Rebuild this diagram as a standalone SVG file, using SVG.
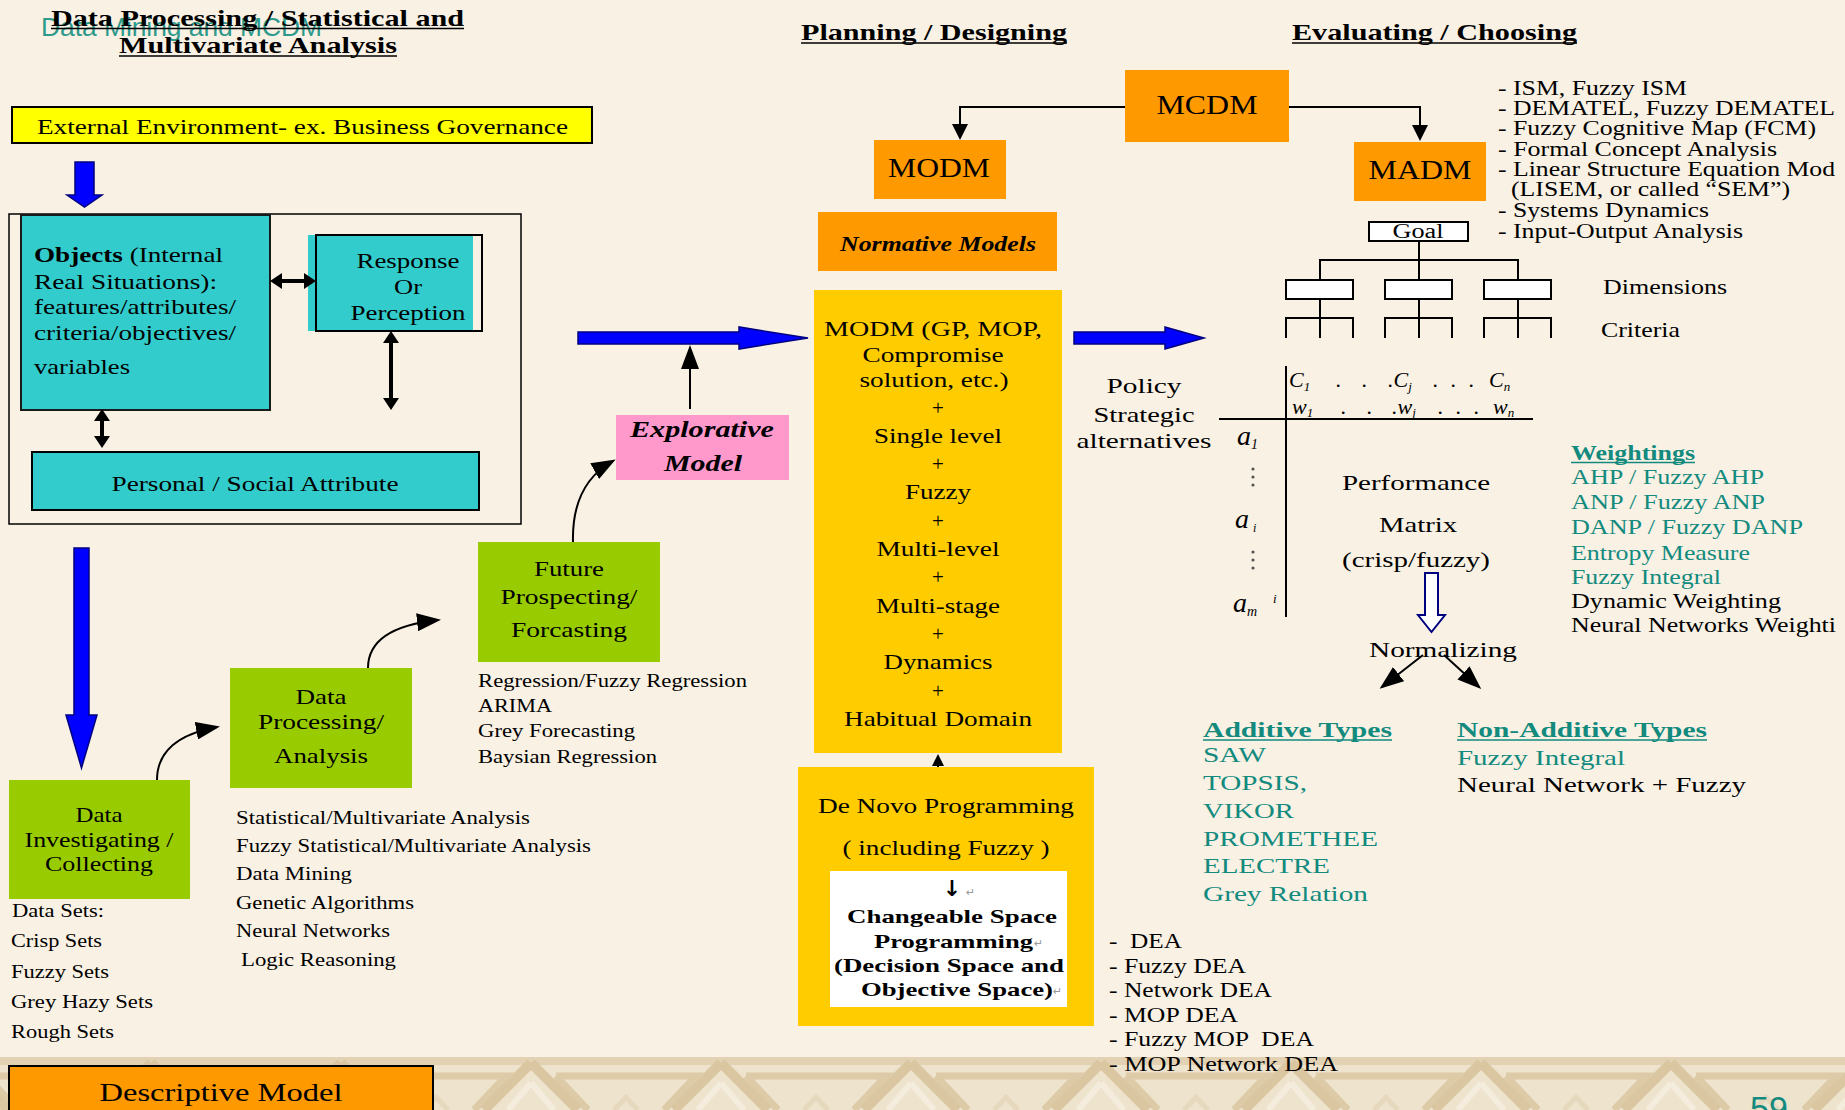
<svg xmlns="http://www.w3.org/2000/svg" width="1845" height="1110" viewBox="0 0 1845 1110">
<defs>
<style>
.s{font-family:"Liberation Serif","Times New Roman",serif;fill:#000}
.sa{font-family:"Liberation Sans",Arial,sans-serif}
.b{font-weight:bold}
.i{font-style:italic}
.t{fill:#128a7e}
.c{text-anchor:middle}
.pre{white-space:pre}
.ln{stroke:#000;stroke-width:2;fill:none}
.dbl{stroke:#000;stroke-width:4;fill:none}
.blue{fill:#0000ff;stroke:#000080;stroke-width:1.5}
.bx{stroke:#000;stroke-width:2}
.ul{stroke-width:1.6}
.teal{fill:#33cccc}
.org{fill:#ff9900}
.grn{fill:#99cc00}
.gold{fill:#ffcc00}
.ret{fill:#999;font-family:"DejaVu Sans",sans-serif;font-size:11px}
</style>
<marker id="ah" viewBox="0 0 16 16" refX="13" refY="8" markerWidth="16" markerHeight="16" markerUnits="userSpaceOnUse" orient="auto"><path d="M0,0 L16,8 L0,16 z" fill="#000"/></marker>
<marker id="ahs" viewBox="0 0 12 12" refX="10" refY="6" markerWidth="12" markerHeight="12" markerUnits="userSpaceOnUse" orient="auto"><path d="M0,0 L12,6 L0,12 z" fill="#000"/></marker>
<marker id="ahd" viewBox="0 0 12 16" refX="4" refY="8" markerWidth="12" markerHeight="16" markerUnits="userSpaceOnUse" orient="auto-start-reverse"><path d="M0,0 L12,8 L0,16 z" fill="#000"/></marker>
<marker id="ahl" viewBox="0 0 24 18" refX="21" refY="9" markerWidth="24" markerHeight="18" markerUnits="userSpaceOnUse" orient="auto"><path d="M0,0 L24,9 L0,18 z" fill="#000"/></marker>
<pattern id="band" x="56" y="1057" width="190" height="53" patternUnits="userSpaceOnUse">
<rect width="190" height="53" fill="#eee3cd"/>
<rect width="190" height="8" fill="#e2d2b3"/>
<path d="M-20,19 H70 L38,53 M120,19 H210" stroke="#ddcaa7" stroke-width="7" fill="none"/>
<path d="M152,53 L120,19" stroke="#ddcaa7" stroke-width="7" fill="none"/>
<path d="M95,6 L48,53 M95,6 L142,53" stroke="#dac7a2" stroke-width="10" fill="none"/>
<path d="M95,26 L72,53 M95,26 L118,53" stroke="#f4ecdc" stroke-width="6" fill="none"/>
<path d="M-10,30 L12,53 M200,30 L178,53" stroke="#e6d8bc" stroke-width="5" fill="none"/>
</pattern>
</defs>

<rect x="0" y="0" width="1845" height="1110" fill="#f8f1e4"/>
<rect x="0" y="1057" width="1845" height="53" fill="url(#band)"/>

<g id="titles">
<text class="sa" x="41" y="36" font-size="25" fill="#2e9a8c" textLength="281" lengthAdjust="spacingAndGlyphs">Data Mining and MCDM</text>
<text class="s b" x="51" y="26" font-size="24" textLength="413" lengthAdjust="spacingAndGlyphs">Data Processing / Statistical and</text>
<line class="ln ul" x1="51" y1="28.5" x2="464" y2="28.5"/>
<text class="s b" x="119" y="53" font-size="24" textLength="278" lengthAdjust="spacingAndGlyphs">Multivariate Analysis</text>
<line class="ln ul" x1="119" y1="56" x2="397" y2="56"/>
<text class="s b" x="801" y="40" font-size="24" textLength="266" lengthAdjust="spacingAndGlyphs">Planning / Designing</text>
<line class="ln ul" x1="801" y1="43" x2="1067" y2="43"/>
<text class="s b" x="1292" y="40" font-size="24" textLength="285" lengthAdjust="spacingAndGlyphs">Evaluating / Choosing</text>
<line class="ln ul" x1="1292" y1="43" x2="1577" y2="43"/>
</g>

<g id="external">
<rect class="bx" x="12" y="107" width="580" height="36" fill="#ffff00"/>
<text class="s" x="37" y="134" font-size="22" textLength="531" lengthAdjust="spacingAndGlyphs">External Environment- ex. Business Governance</text>
</g>

<g id="arrows-blue">
<polygon class="blue" points="75,162 94,162 94,195 102,195 84.5,207 67,195 75,195"/>
<polygon class="blue" points="74,548 89,548 89,715 97,715 81.5,768 66,715 74,715"/>
<polygon class="blue" points="578,332 739,332 739,327 808,338 739,349 739,344 578,344"/>
<polygon class="blue" points="1074,332 1165,332 1165,327 1204,338 1165,349 1165,344 1074,344"/>
</g>

<g id="internal-frame">
<rect x="9" y="214" width="512" height="310" fill="none" stroke="#000" stroke-width="1.5"/>
</g>

<g id="objects">
<rect x="21" y="215" width="249" height="195" class="teal" stroke="#1a1a1a" stroke-width="2"/>
<text class="s" x="34" y="262" font-size="22" textLength="189" lengthAdjust="spacingAndGlyphs"><tspan class="b">Objects</tspan> (Internal</text>
<text class="s" x="34" y="289" font-size="22" textLength="183" lengthAdjust="spacingAndGlyphs">Real Situations):</text>
<text class="s" x="34" y="314" font-size="22" textLength="202" lengthAdjust="spacingAndGlyphs">features/attributes/</text>
<text class="s" x="34" y="340" font-size="22" textLength="202" lengthAdjust="spacingAndGlyphs">criteria/objectives/</text>
<text class="s" x="34" y="374" font-size="22" textLength="96" lengthAdjust="spacingAndGlyphs">variables</text>
</g>

<g id="response">
<rect x="308" y="235" width="165" height="96" class="teal"/>
<rect x="316" y="235" width="166" height="96" fill="none" stroke="#000" stroke-width="2"/>
<text class="s c" x="408" y="268" font-size="21" textLength="103" lengthAdjust="spacingAndGlyphs">Response</text>
<text class="s c" x="408" y="294" font-size="21" textLength="28" lengthAdjust="spacingAndGlyphs">Or</text>
<text class="s c" x="408" y="320" font-size="21" textLength="115" lengthAdjust="spacingAndGlyphs">Perception</text>
</g>

<g id="personal">
<rect class="bx teal" x="32" y="452" width="447" height="58"/>
<text class="s c" x="255" y="491" font-size="22" textLength="287" lengthAdjust="spacingAndGlyphs">Personal / Social Attribute</text>
</g>

<g id="mcdm">
<rect class="org" x="1125" y="70" width="164" height="72"/>
<text class="s c" x="1207" y="114" font-size="27" textLength="101" lengthAdjust="spacingAndGlyphs">MCDM</text>
</g>
<g id="modm">
<rect class="org" x="874" y="140" width="132" height="59"/>
<text class="s c" x="939" y="177" font-size="27" textLength="102" lengthAdjust="spacingAndGlyphs">MODM</text>
</g>
<g id="madm">
<rect class="org" x="1354" y="142" width="132" height="59"/>
<text class="s c" x="1420" y="179" font-size="27" textLength="103" lengthAdjust="spacingAndGlyphs">MADM</text>
</g>
<g id="normative">
<rect class="org" x="818" y="212" width="239" height="59"/>
<text class="s b i c" x="938" y="251" font-size="22" textLength="196" lengthAdjust="spacingAndGlyphs">Normative Models</text>
</g>

<g id="modm-methods">
<rect class="gold" x="814" y="290" width="248" height="463"/>
<text class="s c" x="933" y="336" font-size="22" textLength="218" lengthAdjust="spacingAndGlyphs">MODM (GP, MOP,</text>
<text class="s c" x="933" y="362" font-size="22" textLength="141" lengthAdjust="spacingAndGlyphs">Compromise</text>
<text class="s c" x="934" y="387" font-size="22" textLength="149" lengthAdjust="spacingAndGlyphs">solution, etc.)</text>
<text class="s c" x="938" y="415" font-size="21">+</text>
<text class="s c" x="938" y="443" font-size="22" textLength="128" lengthAdjust="spacingAndGlyphs">Single level</text>
<text class="s c" x="938" y="471" font-size="21">+</text>
<text class="s c" x="938" y="499" font-size="22" textLength="66" lengthAdjust="spacingAndGlyphs">Fuzzy</text>
<text class="s c" x="938" y="528" font-size="21">+</text>
<text class="s c" x="938" y="556" font-size="22" textLength="123" lengthAdjust="spacingAndGlyphs">Multi-level</text>
<text class="s c" x="938" y="584" font-size="21">+</text>
<text class="s c" x="938" y="613" font-size="22" textLength="124" lengthAdjust="spacingAndGlyphs">Multi-stage</text>
<text class="s c" x="938" y="641" font-size="21">+</text>
<text class="s c" x="938" y="669" font-size="22" textLength="109" lengthAdjust="spacingAndGlyphs">Dynamics</text>
<text class="s c" x="938" y="698" font-size="21">+</text>
<text class="s c" x="938" y="726" font-size="22" textLength="188" lengthAdjust="spacingAndGlyphs">Habitual Domain</text>
</g>

<g id="explorative">
<rect x="616" y="415" width="173" height="65" fill="#ff99cc"/>
<text class="s b i c" x="702" y="437" font-size="23" textLength="144" lengthAdjust="spacingAndGlyphs">Explorative</text>
<text class="s b i c" x="703" y="471" font-size="23" textLength="78" lengthAdjust="spacingAndGlyphs">Model</text>
</g>

<g id="data-investigating">
<rect class="grn" x="9" y="780" width="181" height="119"/>
<text class="s c" x="99" y="822" font-size="22" textLength="47" lengthAdjust="spacingAndGlyphs">Data</text>
<text class="s c" x="99" y="847" font-size="22" textLength="149" lengthAdjust="spacingAndGlyphs">Investigating /</text>
<text class="s c" x="99" y="871" font-size="22" textLength="108" lengthAdjust="spacingAndGlyphs">Collecting</text>
</g>
<g id="data-processing">
<rect class="grn" x="230" y="668" width="182" height="120"/>
<text class="s c" x="321" y="704" font-size="21" textLength="51" lengthAdjust="spacingAndGlyphs">Data</text>
<text class="s c" x="321" y="729" font-size="21" textLength="126" lengthAdjust="spacingAndGlyphs">Processing/</text>
<text class="s c" x="321" y="763" font-size="21" textLength="94" lengthAdjust="spacingAndGlyphs">Analysis</text>
</g>
<g id="future">
<rect class="grn" x="478" y="542" width="182" height="120"/>
<text class="s c" x="569" y="576" font-size="21" textLength="70" lengthAdjust="spacingAndGlyphs">Future</text>
<text class="s c" x="569" y="604" font-size="21" textLength="137" lengthAdjust="spacingAndGlyphs">Prospecting/</text>
<text class="s c" x="569" y="637" font-size="21" textLength="116" lengthAdjust="spacingAndGlyphs">Forcasting</text>
</g>

<g id="forecast-methods">
<text class="s" x="478" y="687" font-size="18" textLength="269" lengthAdjust="spacingAndGlyphs">Regression/Fuzzy Regression</text>
<text class="s" x="478" y="712" font-size="18" textLength="74" lengthAdjust="spacingAndGlyphs">ARIMA</text>
<text class="s" x="478" y="737" font-size="18" textLength="157" lengthAdjust="spacingAndGlyphs">Grey Forecasting</text>
<text class="s" x="478" y="763" font-size="18" textLength="179" lengthAdjust="spacingAndGlyphs">Baysian Regression</text>
</g>
<g id="analysis-methods">
<text class="s" x="236" y="824" font-size="18" textLength="294" lengthAdjust="spacingAndGlyphs">Statistical/Multivariate Analysis</text>
<text class="s" x="236" y="852" font-size="18" textLength="355" lengthAdjust="spacingAndGlyphs">Fuzzy Statistical/Multivariate Analysis</text>
<text class="s" x="236" y="880" font-size="18" textLength="116" lengthAdjust="spacingAndGlyphs">Data Mining</text>
<text class="s" x="236" y="909" font-size="18" textLength="178" lengthAdjust="spacingAndGlyphs">Genetic Algorithms</text>
<text class="s" x="236" y="937" font-size="18" textLength="154" lengthAdjust="spacingAndGlyphs">Neural Networks</text>
<text class="s" x="241" y="966" font-size="18" textLength="155" lengthAdjust="spacingAndGlyphs">Logic Reasoning</text>
</g>
<g id="data-sets">
<text class="s" x="12" y="917" font-size="18" textLength="92" lengthAdjust="spacingAndGlyphs">Data Sets:</text>
<text class="s" x="11" y="947" font-size="18" textLength="91" lengthAdjust="spacingAndGlyphs">Crisp Sets</text>
<text class="s" x="11" y="978" font-size="18" textLength="98" lengthAdjust="spacingAndGlyphs">Fuzzy Sets</text>
<text class="s" x="11" y="1008" font-size="18" textLength="142" lengthAdjust="spacingAndGlyphs">Grey Hazy Sets</text>
<text class="s" x="11" y="1038" font-size="18" textLength="103" lengthAdjust="spacingAndGlyphs">Rough Sets</text>
</g>

<g id="descriptive">
<rect class="bx org" x="9" y="1066" width="424" height="60"/>
<text class="s c" x="221" y="1101" font-size="26" textLength="243" lengthAdjust="spacingAndGlyphs">Descriptive Model</text>
</g>

<g id="de-novo">
<rect class="gold" x="798" y="767" width="296" height="259"/>
<text class="s c" x="946" y="813" font-size="21" textLength="256" lengthAdjust="spacingAndGlyphs">De Novo Programming</text>
<text class="s c pre" x="946" y="855" font-size="21" textLength="207" lengthAdjust="spacingAndGlyphs">( including Fuzzy )</text>
<rect x="830" y="871" width="237" height="136" fill="#ffffff"/>
<text x="952" y="896" font-size="22" font-family="DejaVu Sans, sans-serif" font-weight="bold" text-anchor="middle">↓</text>
<text class="ret" x="966" y="896">↵</text>
<text class="s b c" x="952" y="923" font-size="19" fill="#222" textLength="210" lengthAdjust="spacingAndGlyphs">Changeable Space</text>
<text class="s b" x="874" y="948" font-size="19" fill="#222" textLength="159" lengthAdjust="spacingAndGlyphs">Programming</text>
<text class="ret" x="1034" y="947">↵</text>
<text class="s b" x="834" y="972" font-size="19" fill="#222" textLength="230" lengthAdjust="spacingAndGlyphs">(Decision Space and</text>
<text class="s b" x="861" y="996" font-size="19" fill="#222" textLength="192" lengthAdjust="spacingAndGlyphs">Objective Space)</text>
<text class="ret" x="1053" y="995">↵</text>
</g>

<g id="dea-methods">
<text class="s pre" x="1109" y="948" font-size="21" textLength="73" lengthAdjust="spacingAndGlyphs">-  DEA</text>
<text class="s" x="1109" y="973" font-size="21" textLength="137" lengthAdjust="spacingAndGlyphs">- Fuzzy DEA</text>
<text class="s" x="1109" y="997" font-size="21" textLength="163" lengthAdjust="spacingAndGlyphs">- Network DEA</text>
<text class="s" x="1109" y="1022" font-size="21" textLength="129" lengthAdjust="spacingAndGlyphs">- MOP DEA</text>
<text class="s pre" x="1109" y="1046" font-size="21" textLength="205" lengthAdjust="spacingAndGlyphs">- Fuzzy MOP  DEA</text>
<text class="s" x="1109" y="1071" font-size="21" textLength="229" lengthAdjust="spacingAndGlyphs">- MOP Network DEA</text>
</g>

<g id="policy">
<text class="s c" x="1144" y="393" font-size="22" textLength="75" lengthAdjust="spacingAndGlyphs">Policy</text>
<text class="s c" x="1144" y="422" font-size="22" textLength="101" lengthAdjust="spacingAndGlyphs">Strategic</text>
<text class="s c" x="1144" y="448" font-size="22" textLength="135" lengthAdjust="spacingAndGlyphs">alternatives</text>
</g>

<g id="madm-structural">
<text class="s" x="1498" y="95" font-size="21" textLength="189" lengthAdjust="spacingAndGlyphs">- ISM, Fuzzy ISM</text>
<text class="s" x="1498" y="115" font-size="21" textLength="337" lengthAdjust="spacingAndGlyphs">- DEMATEL, Fuzzy DEMATEL</text>
<text class="s" x="1498" y="135" font-size="21" textLength="318" lengthAdjust="spacingAndGlyphs">- Fuzzy Cognitive Map (FCM)</text>
<text class="s" x="1498" y="156" font-size="21" textLength="279" lengthAdjust="spacingAndGlyphs">- Formal Concept Analysis</text>
<text class="s" x="1498" y="176" font-size="21" textLength="337" lengthAdjust="spacingAndGlyphs">- Linear Structure Equation Mod</text>
<text class="s" x="1511" y="196" font-size="21" textLength="279" lengthAdjust="spacingAndGlyphs">(LISEM, or called “SEM”)</text>
<text class="s" x="1498" y="217" font-size="21" textLength="211" lengthAdjust="spacingAndGlyphs">- Systems Dynamics</text>
<text class="s" x="1498" y="238" font-size="21" textLength="245" lengthAdjust="spacingAndGlyphs">- Input-Output Analysis</text>
</g>

<g id="hierarchy">
<rect x="1369" y="222" width="99" height="19" fill="#fff" stroke="#000" stroke-width="2"/>
<text class="s c" x="1418" y="238" font-size="20" textLength="51" lengthAdjust="spacingAndGlyphs">Goal</text>
<path class="ln" d="M1419,241 V260 M1320,280 V260 H1518 V280 M1419,260 V280"/>
<rect x="1286" y="280" width="67" height="19" fill="#fff" stroke="#000" stroke-width="2"/>
<rect x="1385" y="280" width="67" height="19" fill="#fff" stroke="#000" stroke-width="2"/>
<rect x="1484" y="280" width="67" height="19" fill="#fff" stroke="#000" stroke-width="2"/>
<path class="ln" d="M1320,299 V338 M1286,338 V318 H1353 V338 M1419,299 V338 M1385,338 V318 H1452 V338 M1518,299 V338 M1484,338 V318 H1551 V338"/>
<text class="s" x="1603" y="294" font-size="21" textLength="124" lengthAdjust="spacingAndGlyphs">Dimensions</text>
<text class="s" x="1601" y="337" font-size="21" textLength="79" lengthAdjust="spacingAndGlyphs">Criteria</text>
</g>

<g id="matrix">
<line class="ln" x1="1286" y1="366" x2="1286" y2="617" stroke-width="2.5"/>
<line class="ln" x1="1219" y1="419" x2="1533" y2="419"/>
<text class="s i" y="387" font-size="22"><tspan x="1289">C</tspan><tspan dy="4" font-size="13">1</tspan><tspan x="1336" dy="-4">.</tspan><tspan x="1362">.</tspan><tspan x="1388">.C</tspan><tspan dy="4" font-size="13">j</tspan><tspan x="1433" dy="-4">.</tspan><tspan x="1451">.</tspan><tspan x="1469">.</tspan><tspan x="1489">C</tspan><tspan dy="4" font-size="13">n</tspan></text>
<text class="s i" y="414" font-size="22"><tspan x="1292">w</tspan><tspan dy="3" font-size="13">1</tspan><tspan x="1341" dy="-3">.</tspan><tspan x="1367">.</tspan><tspan x="1392">.w</tspan><tspan dy="3" font-size="13">j</tspan><tspan x="1438" dy="-3">.</tspan><tspan x="1456">.</tspan><tspan x="1474">.</tspan><tspan x="1493">w</tspan><tspan dy="3" font-size="13">n</tspan></text>
<text class="s i" x="1237" y="445" font-size="28" fill="#555">a<tspan font-size="14" dy="4">1</tspan></text>
<circle cx="1253" cy="469" r="1.6" fill="#555"/><circle cx="1253" cy="477" r="1.6" fill="#555"/><circle cx="1253" cy="485" r="1.6" fill="#555"/>
<text class="s i" x="1235" y="528" font-size="28" fill="#555">a<tspan font-size="12" dy="4" dx="4">i</tspan></text>
<circle cx="1253" cy="552" r="1.6" fill="#555"/><circle cx="1253" cy="560" r="1.6" fill="#555"/><circle cx="1253" cy="568" r="1.6" fill="#555"/>
<text class="s i" x="1233" y="612" font-size="28" fill="#555">a<tspan font-size="14" dy="4">m</tspan></text>
<text class="s i" x="1273" y="603" font-size="13">i</text>
<text class="s c" x="1416" y="490" font-size="22" textLength="148" lengthAdjust="spacingAndGlyphs">Performance</text>
<text class="s c" x="1418" y="532" font-size="22" textLength="78" lengthAdjust="spacingAndGlyphs">Matrix</text>
<text class="s c" x="1416" y="567" font-size="22" textLength="148" lengthAdjust="spacingAndGlyphs">(crisp/fuzzy)</text>
<polygon points="1425,573 1438,573 1438,615 1445,615 1431.5,632 1418,615 1425,615" fill="#fff" stroke="#000080" stroke-width="2"/>
<text class="s c" x="1443" y="657" font-size="22" textLength="148" lengthAdjust="spacingAndGlyphs">Normalizing</text>
</g>

<g id="weightings">
<text class="s b t" x="1571" y="460" font-size="21" textLength="124" lengthAdjust="spacingAndGlyphs">Weightings</text>
<line x1="1571" y1="462.5" x2="1695" y2="462.5" stroke="#128a7e" stroke-width="1.6"/>
<text class="s t" x="1571" y="484" font-size="21" textLength="193" lengthAdjust="spacingAndGlyphs">AHP / Fuzzy AHP</text>
<text class="s t" x="1571" y="509" font-size="21" textLength="194" lengthAdjust="spacingAndGlyphs">ANP / Fuzzy ANP</text>
<text class="s t" x="1571" y="534" font-size="21" textLength="232" lengthAdjust="spacingAndGlyphs">DANP / Fuzzy DANP</text>
<text class="s t" x="1571" y="560" font-size="21" textLength="179" lengthAdjust="spacingAndGlyphs">Entropy Measure</text>
<text class="s t" x="1571" y="584" font-size="21" textLength="150" lengthAdjust="spacingAndGlyphs">Fuzzy Integral</text>
<text class="s" x="1571" y="608" font-size="21" textLength="210" lengthAdjust="spacingAndGlyphs">Dynamic Weighting</text>
<text class="s" x="1571" y="632" font-size="21" textLength="265" lengthAdjust="spacingAndGlyphs">Neural Networks Weighti</text>
</g>

<g id="additive">
<text class="s b t" x="1203" y="737" font-size="22" textLength="189" lengthAdjust="spacingAndGlyphs">Additive Types</text>
<line x1="1203" y1="740" x2="1392" y2="740" stroke="#128a7e" stroke-width="1.6"/>
<text class="s t" x="1203" y="762" font-size="22" textLength="63" lengthAdjust="spacingAndGlyphs">SAW</text>
<text class="s t" x="1203" y="790" font-size="22" textLength="104" lengthAdjust="spacingAndGlyphs">TOPSIS,</text>
<text class="s t" x="1203" y="818" font-size="22" textLength="91" lengthAdjust="spacingAndGlyphs">VIKOR</text>
<text class="s t" x="1203" y="846" font-size="22" textLength="175" lengthAdjust="spacingAndGlyphs">PROMETHEE</text>
<text class="s t" x="1203" y="873" font-size="22" textLength="127" lengthAdjust="spacingAndGlyphs">ELECTRE</text>
<text class="s t" x="1203" y="901" font-size="22" textLength="165" lengthAdjust="spacingAndGlyphs">Grey Relation</text>
</g>

<g id="non-additive">
<text class="s b t" x="1457" y="737" font-size="22" textLength="250" lengthAdjust="spacingAndGlyphs">Non-Additive Types</text>
<line x1="1457" y1="740" x2="1707" y2="740" stroke="#128a7e" stroke-width="1.6"/>
<text class="s t" x="1457" y="765" font-size="22" textLength="168" lengthAdjust="spacingAndGlyphs">Fuzzy Integral</text>
<text class="s" x="1457" y="792" font-size="22" textLength="289" lengthAdjust="spacingAndGlyphs">Neural Network + Fuzzy</text>
</g>

<g id="connectors">
<path class="ln" d="M1125,107 H960 V137" marker-end="url(#ah)"/>
<path class="ln" d="M1289,107 H1420 V138" marker-end="url(#ah)"/>
<path class="ln" d="M690,409 V348" marker-end="url(#ahl)"/>
<path class="ln" d="M157,780 C157,752 178,734 217,727" marker-end="url(#ahl)"/>
<path class="ln" d="M368,668 C368,641 392,625 438,620" marker-end="url(#ahl)"/>
<path class="ln" d="M573,542 C572,502 586,476 613,461" marker-end="url(#ahl)"/>
<path class="ln" d="M938,767 V756" marker-end="url(#ahs)"/>
<path class="dbl" d="M278,281 H308" marker-start="url(#ahd)" marker-end="url(#ahd)"/>
<path class="dbl" d="M391,339 V402" marker-start="url(#ahd)" marker-end="url(#ahd)"/>
<path class="dbl" d="M102,417 V440" marker-start="url(#ahd)" marker-end="url(#ahd)"/>
<path class="ln" d="M1423,655 L1382,687" marker-end="url(#ahl)"/>
<path class="ln" d="M1444,655 L1479,687" marker-end="url(#ahl)"/>
</g>

<text class="sa" x="1750" y="1120" font-size="34" fill="#138a7e">59</text>
</svg>
